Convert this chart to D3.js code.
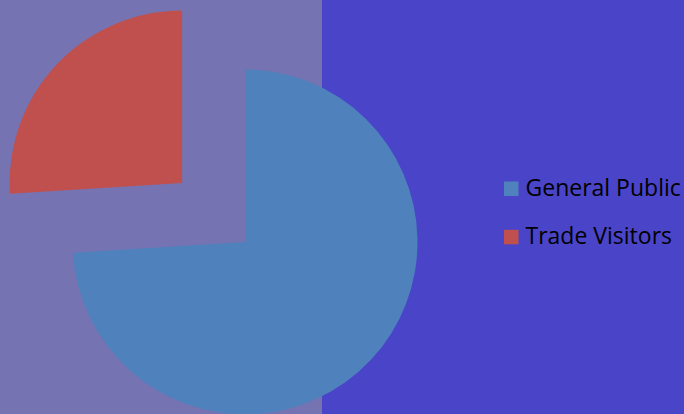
<!DOCTYPE html>
<html><head><meta charset="utf-8">
<script src="https://cdn.jsdelivr.net/npm/d3@7"></script>
<style>html,body{margin:0;padding:0;background:#4a44c8;overflow:hidden}</style>
</head><body>
<svg id="c" width="684" height="414"></svg>
<script>
const categories = ["General Public", "Trade Visitors"];
const values = [74, 26];
const colors = ["#4f81bd", "#c0504d"];
const explode = [0, 0.5];

const svg = d3.select("#c");
svg.append("rect").attr("width",684).attr("height",414).attr("fill","#4a44c8");
svg.append("rect").attr("x",0).attr("y",0).attr("width",322).attr("height",414).attr("fill","#7673b3");

const cx = 245, cy = 242, r = 172.5;
const pie = d3.pie().sort(null).value(d => d)(values);
const arc = d3.arc().innerRadius(0).outerRadius(r);
const g = svg.append("g").attr("transform", `translate(${cx},${cy})`);
g.selectAll("path").data(pie).join("path")
  .attr("d", arc)
  .attr("fill", (d,i) => colors[i])
  .attr("transform", (d,i) => {
    const a = (d.startAngle + d.endAngle)/2;
    const off = explode[i]*r;
    return `translate(${Math.sin(a)*off},${-Math.cos(a)*off})`;
  });

const leg = svg.append("g");
categories.forEach((c,i) => {
  const y = 181.5 + i*48.3;
  leg.append("rect").attr("x",504).attr("y",y).attr("width",14.5).attr("height",14.5).attr("fill",colors[i]);
  leg.append("text").attr("x",525.5).attr("y",y+14.2).attr("font-family","'Open Sans', sans-serif")
    .attr("font-size",23).attr("fill","#000").text(c);
});
</script>
</body></html>
